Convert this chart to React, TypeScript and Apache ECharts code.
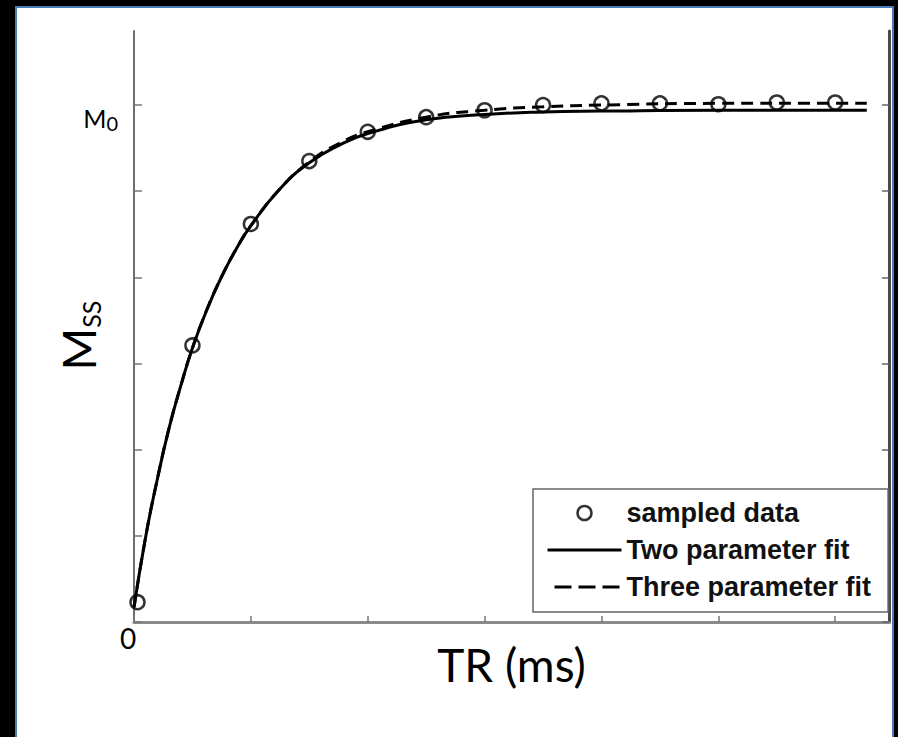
import React, { useEffect, useRef } from "react";
import * as echarts from "echarts";

// Sampled data (TR in axis units, Mss in axis units; M0 = 6)
const sampleTR = [0.03, 0.5, 1.0, 1.5, 2.0, 2.5, 3.0, 3.5, 4.0, 4.5, 5.0, 5.5, 6.0];
const sampleM = [0.23, 3.21, 4.62, 5.35, 5.69, 5.86, 5.94, 6.0, 6.02, 6.02, 6.01, 6.03, 6.03];

// Fit curves
const fitTR = [0, 0.1, 0.2, 0.3, 0.4, 0.5, 0.625, 0.75, 0.875, 1.0, 1.25, 1.5, 1.75, 2.0, 2.5, 3.0, 3.5, 4.0, 5.0, 6.0, 6.27];
const twoParamM = [0.17, 0.99, 1.66, 2.25, 2.74, 3.18, 3.63, 4.01, 4.33, 4.6, 5.03, 5.33, 5.53, 5.67, 5.83, 5.89, 5.92, 5.93, 5.94, 5.94, 5.94];
const threeParamM = [0.17, 0.99, 1.66, 2.25, 2.74, 3.18, 3.63, 4.01, 4.33, 4.6, 5.03, 5.34, 5.55, 5.69, 5.86, 5.94, 5.98, 6.0, 6.02, 6.02, 6.02];

const tickValues = [0, 1, 2, 3, 4, 5, 6];
const legendNames = ["sampled data", "Two parameter fit", "Three parameter fit"];
const xName = "TR (ms)";
const yNameMain = "M";
const yNameSub = "SS";
const m0Main = "M";
const m0Sub = "0";
const originLabel = "0";

const pairs = (xs: number[], ys: number[]) => xs.map((x, i) => [x, ys[i]]);

export default function App() {
  const ref = useRef<HTMLDivElement>(null);
  useEffect(() => {
    if (!ref.current) return;
    const chart = echarts.init(ref.current, undefined, { renderer: "svg" });
    const dash = [12, 7];
    const hidden = { color: "rgba(0,0,0,0)", borderColor: "rgba(0,0,0,0)", borderWidth: 0 };
    chart.setOption({
      animation: false,
      backgroundColor: "#000",
      graphic: [
        {
          type: "rect",
          z: -100,
          silent: true,
          shape: { x: 16, y: 7, width: 877, height: 745 },
          style: { fill: "#fff", stroke: "#4A7EBB", lineWidth: 2 },
        },
      ],
      grid: { left: 134, right: 9, top: 31, bottom: 115, containLabel: false },
      legend: {
        orient: "vertical",
        left: 533,
        top: 489,
        padding: [9, 17, 10, 13],
        itemGap: 7,
        itemWidth: 74,
        itemHeight: 14,
        backgroundColor: "#fff",
        borderColor: "#666",
        borderWidth: 1.5,
        borderRadius: 0,
        selectedMode: false,
        textStyle: {
          fontFamily: "Liberation Sans",
          fontWeight: "bold",
          fontSize: 27,
          lineHeight: 30,
          color: "#111",
        },
        data: [
          {
            name: legendNames[0],
            icon: "circle",
            itemStyle: { color: "rgba(0,0,0,0)", borderColor: "#000", borderWidth: 2.5 },
          },
          {
            name: legendNames[1],
            itemStyle: hidden,
            lineStyle: { width: 3, color: "#000", type: "solid" },
          },
          {
            name: legendNames[2],
            itemStyle: hidden,
            lineStyle: { width: 3, color: "#000", type: [17, 7], dashOffset: 17 },
          },
        ],
      },
      xAxis: {
        type: "value",
        min: 0,
        max: 6.46,
        name: xName,
        nameLocation: "middle",
        nameGap: 19,
        nameMoveOverlap: false,
        nameTextStyle: { fontFamily: "Lato", fontSize: 46, color: "#000", lineHeight: 46 },
        splitLine: { show: false },
        axisLine: { show: true, onZero: false, lineStyle: { color: "#8a8a8a", width: 3 } },
        axisTick: { show: true, inside: true, length: 6, customValues: tickValues, lineStyle: { color: "#777", width: 1.5 } },
        axisLabel: {
          customValues: [0],
          formatter: () => originLabel,
          fontFamily: "Lato",
          fontSize: 28,
          lineHeight: 28,
          color: "#000",
          margin: 2,
          padding: [0, 12, 0, 0],
        },
      },
      yAxis: [
        {
          type: "value",
          min: 0,
          max: 6.86,
          position: "left",
          name: `{m|${yNameMain}}{s|${yNameSub}}`,
          nameLocation: "middle",
          nameRotate: 90,
          nameGap: 31,
          nameMoveOverlap: false,
          nameTextStyle: {
            padding: [0, 18, 0, 0],
            rich: {
              m: { fontFamily: "Lato", fontSize: 46, lineHeight: 50, color: "#000" },
              s: { fontFamily: "Lato", fontSize: 25, lineHeight: 34, verticalAlign: "bottom", color: "#000" },
            },
          },
          splitLine: { show: false },
          axisLine: { show: true, onZero: false, lineStyle: { color: "#6e6e6e", width: 2 } },
          axisTick: { show: true, inside: true, length: 8, customValues: tickValues, lineStyle: { color: "#777", width: 1.5 } },
          axisLabel: {
            customValues: [6],
            formatter: () => `{m|${m0Main}}{s|${m0Sub}}`,
            margin: 16,
            padding: [25, 0, 0, 0],
            rich: {
              m: { fontFamily: "Lato", fontSize: 25, lineHeight: 30, color: "#000" },
              s: { fontFamily: "Lato", fontSize: 20, lineHeight: 14, verticalAlign: "bottom", color: "#000" },
            },
          },
        },
        {
          type: "value",
          min: 0,
          max: 6.86,
          position: "right",
          splitLine: { show: false },
          axisLine: { show: true, onZero: false, lineStyle: { color: "#4a4a4a", width: 3 } },
          axisTick: { show: true, inside: true, length: 7, customValues: tickValues, lineStyle: { color: "#666", width: 1.5 } },
          axisLabel: { show: false },
        },
      ],
      series: [
        {
          name: legendNames[1],
          type: "line",
          data: pairs(fitTR, twoParamM),
          smooth: true,
          showSymbol: false,
          symbol: "none",
          lineStyle: { color: "#000", width: 3 },
          itemStyle: { color: "#000" },
          z: 2,
        },
        {
          name: legendNames[2],
          type: "line",
          data: pairs(fitTR, threeParamM),
          smooth: true,
          showSymbol: false,
          symbol: "none",
          lineStyle: { color: "#000", width: 3, type: dash },
          itemStyle: { color: "#000" },
          z: 3,
        },
        {
          name: legendNames[0],
          type: "scatter",
          data: pairs(sampleTR, sampleM),
          symbol: "circle",
          symbolSize: 14,
          itemStyle: { color: "rgba(0,0,0,0)", borderColor: "#000", borderWidth: 2.5 },
          z: 4,
        },
      ],
    });
    return () => chart.dispose();
  }, []);
  return (
    <div
      ref={ref}
      style={{ position: "fixed", left: 0, top: 0, width: 898, height: 737, background: "#000" }}
    />
  );
}
